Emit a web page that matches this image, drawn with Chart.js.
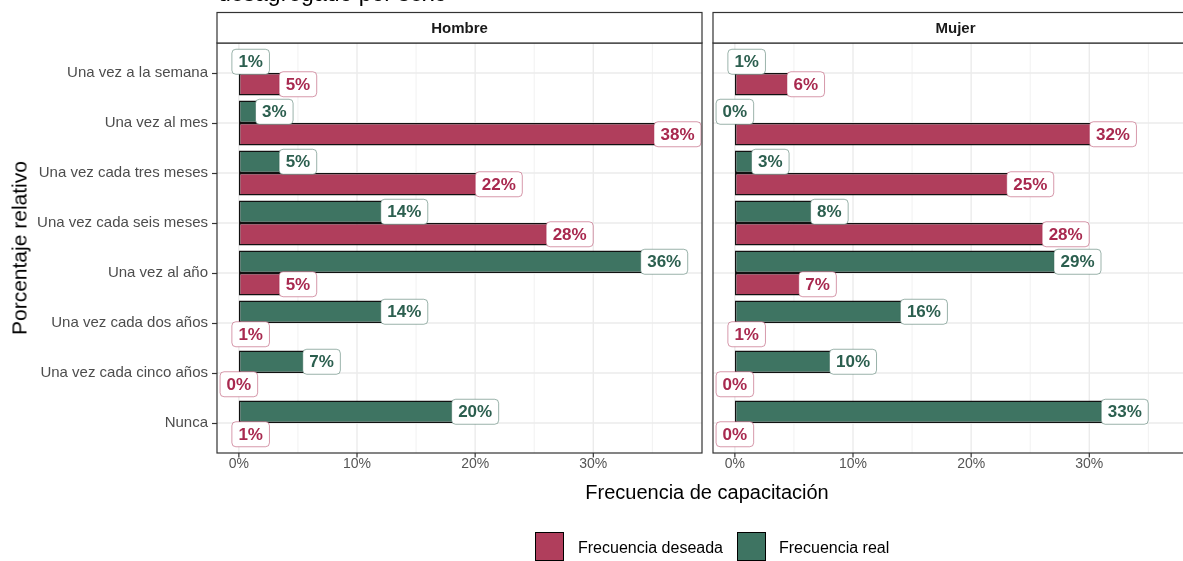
<!DOCTYPE html>
<html><head><meta charset="utf-8">
<script src="https://cdn.jsdelivr.net/npm/chart.js@4.4.1/dist/chart.umd.min.js"></script>
<style>
html,body{margin:0;padding:0;width:1183px;height:561px;overflow:hidden;background:#fff;}
#wrap{position:relative;width:1183px;height:561px;overflow:hidden;font-family:"Liberation Sans",Arial,sans-serif;}
canvas{position:absolute;top:0;}
.t{position:absolute;white-space:nowrap;color:#000;line-height:1;}
.key{position:absolute;width:29px;height:29px;border:1px solid #000;box-sizing:border-box;}
</style></head><body>
<div id="wrap">
<canvas id="c1" width="712" height="561" style="left:0px"></canvas>
<canvas id="c2" width="500" height="561" style="left:705px"></canvas>
<div class="t" id="title" style="left:218px;top:-18px;font-size:23px;line-height:23px;">desagregado por sexo</div>
<div class="t" id="xt" style="left:707px;top:482px;font-size:20px;transform:translateX(-50%);">Frecuencia de capacitación</div>
<div class="t" id="yt" style="left:19px;top:248px;font-size:21px;transform:translate(-50%,-50%) rotate(-90deg);">Porcentaje relativo</div>
<div id="legend"></div>
</div>
<script>
const categories = ['Una vez a la semana','Una vez al mes','Una vez cada tres meses','Una vez cada seis meses','Una vez al año','Una vez cada dos años','Una vez cada cinco años','Nunca'];
const panels = ['Hombre','Mujer'];
const seriesNames = ['Frecuencia real','Frecuencia deseada'];
const hombreReal     = [1, 3, 5, 14, 36, 14, 7, 20];
const hombreDeseada  = [5, 38, 22, 28, 5, 1, 0, 1];
const mujerReal      = [1, 0, 3, 8, 29, 16, 10, 33];
const mujerDeseada   = [6, 32, 25, 28, 7, 1, 0, 0];
const xTicks = [0, 10, 20, 30];
const xMinorTicks = [5, 15, 25, 35];
const xMin = -1.85, xMax = 39.2;

const FILL = {real:'#3E7462', deseada:'#B03E5C'};
const TEXT = {real:'#2C5F4F', deseada:'#A8294F'};
const FONT = '"Liberation Sans", Arial, sans-serif';

// legend (HTML)
(function(){
  const lg = document.getElementById('legend');
  const items = [
    {name: seriesNames[1], color: FILL.deseada, box: 535, text: 578},
    {name: seriesNames[0], color: FILL.real, box: 737, text: 779}
  ];
  items.forEach(it => {
    const k = document.createElement('div');
    k.className = 'key';
    k.style.left = it.box + 'px'; k.style.top = '532px'; k.style.background = it.color;
    lg.appendChild(k);
    const t = document.createElement('div');
    t.className = 't';
    t.style.left = it.text + 'px'; t.style.top = '540px'; t.style.fontSize = '16px';
    t.textContent = it.name;
    lg.appendChild(t);
  });
})();

function roundRect(ctx, x, y, w, h, r){
  ctx.beginPath();
  ctx.moveTo(x+r, y);
  ctx.lineTo(x+w-r, y); ctx.quadraticCurveTo(x+w, y, x+w, y+r);
  ctx.lineTo(x+w, y+h-r); ctx.quadraticCurveTo(x+w, y+h, x+w-r, y+h);
  ctx.lineTo(x+r, y+h); ctx.quadraticCurveTo(x, y+h, x, y+h-r);
  ctx.lineTo(x, y+r); ctx.quadraticCurveTo(x, y, x+r, y);
  ctx.closePath();
}

function panelRect(chart){
  const ys = chart.scales.y, xs = chart.scales.x;
  const step = ys.getPixelForValue(1) - ys.getPixelForValue(0);
  return {
    x0: xs.getPixelForValue(xMin), x1: xs.getPixelForValue(xMax),
    y0: ys.getPixelForValue(0) - 0.6*step,
    y1: ys.getPixelForValue(categories.length-1) + 0.6*step
  };
}

const facetPlugin = {
  id: 'facet',
  beforeDatasetsDraw(chart){
    const ctx = chart.ctx, xs = chart.scales.x, ys = chart.scales.y;
    const p = panelRect(chart);
    ctx.save();
    ctx.fillStyle = '#fff';
    ctx.fillRect(p.x0, p.y0, p.x1-p.x0, p.y1-p.y0);
    ctx.strokeStyle = '#EBEBEB';
    ctx.lineWidth = 0.7;
    xMinorTicks.forEach(v => {
      const x = xs.getPixelForValue(v);
      ctx.beginPath(); ctx.moveTo(x, p.y0); ctx.lineTo(x, p.y1); ctx.stroke();
    });
    ctx.lineWidth = 1.4;
    xTicks.forEach(v => {
      const x = xs.getPixelForValue(v);
      ctx.beginPath(); ctx.moveTo(x, p.y0); ctx.lineTo(x, p.y1); ctx.stroke();
    });
    categories.forEach((c, i) => {
      const y = ys.getPixelForValue(i);
      ctx.beginPath(); ctx.moveTo(p.x0, y); ctx.lineTo(p.x1, y); ctx.stroke();
    });
    ctx.restore();
  },
  afterDatasetsDraw(chart, args, opts){
    const ctx = chart.ctx, xs = chart.scales.x;
    const p = panelRect(chart);
    ctx.save();
    // value labels
    ctx.font = 'bold 17px ' + FONT;
    ctx.textAlign = 'center';
    ctx.textBaseline = 'middle';
    chart.data.datasets.forEach((ds, di) => {
      const meta = chart.getDatasetMeta(di);
      const key = ds.key;
      ds.data.forEach((v, j) => {
        const el = meta.data[j];
        const txt = v + '%';
        const tw = ctx.measureText(txt).width;
        const w = tw + 13, h = 25;
        let cx = xs.getPixelForValue(v);
        cx = Math.max(p.x0 + w/2 + 1, Math.min(p.x1 - w/2 - 1, cx));
        const cy = el.y;
        roundRect(ctx, cx - w/2, cy - h/2, w, h, 4);
        ctx.fillStyle = '#fff';
        ctx.fill();
        ctx.strokeStyle = TEXT[key];
        ctx.globalAlpha = 0.6;
        ctx.lineWidth = 0.8;
        ctx.stroke();
        ctx.globalAlpha = 1;
        ctx.fillStyle = TEXT[key];
        ctx.fillText(txt, cx, cy + 1);
      });
    });
    // panel border
    ctx.strokeStyle = '#333';
    ctx.lineWidth = 1.2;
    ctx.strokeRect(p.x0, p.y0, p.x1-p.x0, p.y1-p.y0);
    // strip
    const sTop = 12.5;
    ctx.fillStyle = '#fff';
    ctx.fillRect(p.x0, sTop, p.x1-p.x0, p.y0 - sTop);
    ctx.strokeRect(p.x0, sTop, p.x1-p.x0, p.y0 - sTop);
    ctx.fillStyle = '#1A1A1A';
    ctx.font = 'bold 15px ' + FONT;
    ctx.textAlign = 'center';
    ctx.textBaseline = 'middle';
    ctx.fillText(opts.strip, (p.x0+p.x1)/2, (sTop + p.y0)/2 + 1);
    // x tick marks
    ctx.strokeStyle = '#333';
    ctx.lineWidth = 1.2;
    xTicks.forEach(v => {
      const x = xs.getPixelForValue(v);
      ctx.beginPath(); ctx.moveTo(x, p.y1); ctx.lineTo(x, p.y1 + 4.5); ctx.stroke();
    });
    ctx.restore();
  }
};

function makeChart(id, strip, real, deseada, showY, padding){
  const barOpts = {borderColor: '#111', borderWidth: 1.6, borderSkipped: false, barPercentage: 1, categoryPercentage: 0.9};
  return new Chart(document.getElementById(id), {
    type: 'bar',
    data: {
      labels: categories,
      datasets: [
        Object.assign({key:'real', label: seriesNames[0], data: real, backgroundColor: FILL.real}, barOpts),
        Object.assign({key:'deseada', label: seriesNames[1], data: deseada, backgroundColor: FILL.deseada}, barOpts)
      ]
    },
    options: {
      indexAxis: 'y',
      responsive: false,
      animation: false,
      events: [],
      layout: {padding: padding},
      plugins: {legend:{display:false}, tooltip:{enabled:false}, facet:{strip: strip}},
      scales: {
        x: {
          type: 'linear', min: xMin, max: xMax,
          afterBuildTicks: s => { s.ticks = xTicks.map(v => ({value: v})); },
          afterFit: s => { s.height = 113; },
          grid: {display: false, drawTicks: false},
          border: {display: false},
          ticks: {callback: v => v + '%', color: '#555', font: {family: FONT, size: 14}, padding: 8,
                  maxRotation: 0, autoSkip: false}
        },
        y: {
          type: 'category', offset: true, display: showY,
          afterFit: s => { s.width = showY ? 217 : 0; },
          grid: {display: true, drawOnChartArea: false, drawTicks: true, tickLength: 5, tickColor: '#333', tickWidth: 1.2, offset: false},
          border: {display: false},
          ticks: {color: '#4D4D4D', font: {family: FONT, size: 15}, padding: 4, autoSkip: false}
        }
      }
    },
    plugins: [facetPlugin]
  });
}

makeChart('c1', panels[0], hombreReal, hombreDeseada, true, {top: 48, right: 10, left: 0, bottom: 0});
makeChart('c2', panels[1], mujerReal, mujerDeseada, false, {top: 48, right: 7, left: 8, bottom: 0});
</script>
</body></html>
